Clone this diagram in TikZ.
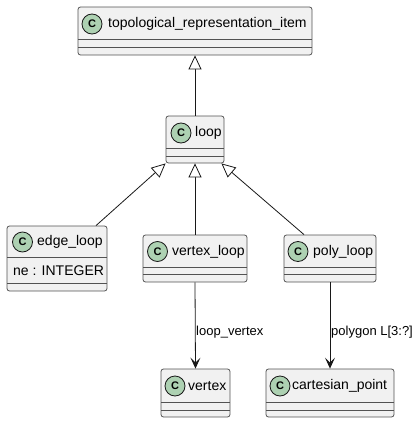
\documentclass[tikz,border=0pt]{standalone}
\usepackage{fontspec}
\setmainfont{Liberation Sans}
\usetikzlibrary{arrows.meta,calc}
\definecolor{boxfill}{HTML}{F1F1F1}
\definecolor{boxline}{HTML}{181818}
\definecolor{cfill}{HTML}{ADD1B2}
\tikzset{
  cls/.style={draw=boxline!75, fill=boxfill, line width=0.8pt, rounded corners=2.5pt, inner sep=0pt},
  div/.style={draw=boxline!75, line width=0.8pt},
  cmark/.style={circle, draw=boxline, fill=cfill, line width=0.8pt, minimum size=20pt, inner sep=0pt, font=\fontsize{11}{11}\selectfont\bfseries},
  ttl/.style={anchor=west, inner sep=0pt, font=\fontsize{14}{14}\selectfont},
  lbl/.style={anchor=west, inner sep=0pt, font=\fontsize{13}{13}\selectfont},
  inh/.style={draw=boxline, line width=0.8pt, -{Triangle[open, length=14pt, width=13pt, fill=white]}},
  assoc/.style={draw=boxline, line width=0.8pt, -{Stealth[length=11pt, width=10pt, inset=5pt]}}
}
\begin{document}
\begin{tikzpicture}[x=1pt, y=-1pt]
\useasboundingbox (0,0) rectangle (420,423);
% topological_representation_item
\node[cls, minimum width=234pt, minimum height=48pt] (topo) at (195,31) {};
\draw[div] (78,39) -- (312,39) (78,47) -- (312,47);
\node[cmark] (topoC) at (92,24) {C};
\node[ttl] (topoT) at (108,24) {topological\_representation\_item};
% loop
\node[cls, minimum width=58pt, minimum height=47pt] (loop) at (195,139.5) {};
\draw[div] (166,148) -- (224,148) (166,156) -- (224,156);
\node[cmark] (loopC) at (181,133) {C};
\node[ttl] (loopT) at (195,133) {loop};
% edge_loop
\node[cls, minimum width=100pt, minimum height=65pt] (edgeloop) at (57,258.5) {};
\draw[div] (7,257) -- (107,257) (7,283) -- (107,283);
\node[cmark] (edgeC) at (22.5,242) {C};
\node[ttl] (edgeT) at (37,242) {edge\_loop};
\node[ttl] (edgeA) at (13,271) {ne : INTEGER};
% vertex_loop
\node[cls, minimum width=104pt, minimum height=47pt] (vertexloop) at (195,258.5) {};
\draw[div] (143,267) -- (247,267) (143,274) -- (247,274);
\node[cmark] (vlC) at (157.5,251.5) {C};
\node[ttl] (vlT) at (172,251.5) {vertex\_loop};
% poly_loop
\node[cls, minimum width=92pt, minimum height=47pt] (polyloop) at (330,258.5) {};
\draw[div] (284,267) -- (376,267) (284,274) -- (376,274);
\node[cmark] (plC) at (298,251.5) {C};
\node[ttl] (plT) at (313,251.5) {poly\_loop};
% vertex
\node[cls, minimum width=69pt, minimum height=48pt] (vertex) at (195.5,393) {};
\draw[div] (161,402) -- (230,402) (161,410) -- (230,410);
\node[cmark] (vC) at (175,386) {C};
\node[ttl] (vT) at (188,386) {vertex};
% cartesian_point
\node[cls, minimum width=128pt, minimum height=48pt] (cart) at (330,393) {};
\draw[div] (266,402) -- (394,402) (266,410) -- (394,410);
\node[cmark] (cpC) at (280,386) {C};
\node[ttl] (cpT) at (292,386) {cartesian\_point};
% inheritance
\draw[inh] (loop.north) -- (topo.south);
\draw[inh] ($(edgeloop.north)+(39,0)$) -- (loop.south west);
\draw[inh] (vertexloop.north) -- (loop.south);
\draw[inh] ($(polyloop.north)+(-26,0)$) -- ($(loop.south east)+(-3,0)$);
% associations
\draw[assoc] (vertexloop.south) -- (vertex.north);
\draw[assoc] (polyloop.south) -- (cart.north);
\node[lbl] (l1) at (196,332) {loop\_vertex};
\node[lbl] (l2) at (331,332) {polygon L[3:?]};
\end{tikzpicture}
\end{document}
